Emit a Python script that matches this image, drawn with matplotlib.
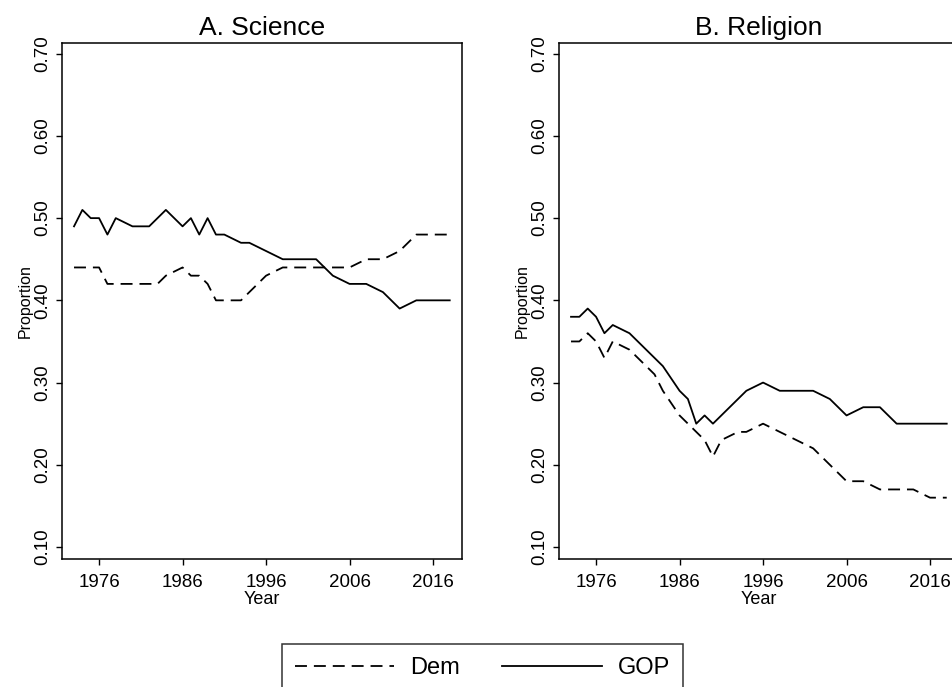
import matplotlib
matplotlib.use("Agg")
import matplotlib.pyplot as plt
from matplotlib.lines import Line2D

## DADOS ##
years = [1973, 1974, 1975, 1976, 1977, 1978, 1980, 1982, 1983, 1984,
         1986, 1987, 1988, 1989, 1990, 1991, 1993, 1994, 1996, 1998,
         2000, 2002, 2004, 2006, 2008, 2010, 2012, 2014, 2016, 2018]

science_dem = [0.44, 0.44, 0.44, 0.44, 0.42, 0.42, 0.42, 0.42, 0.42, 0.43,
               0.44, 0.43, 0.43, 0.42, 0.40, 0.40, 0.40, 0.41, 0.43, 0.44,
               0.44, 0.44, 0.44, 0.44, 0.45, 0.45, 0.46, 0.48, 0.48, 0.48]
science_gop = [0.49, 0.51, 0.50, 0.50, 0.48, 0.50, 0.49, 0.49, 0.50, 0.51,
               0.49, 0.50, 0.48, 0.50, 0.48, 0.48, 0.47, 0.47, 0.46, 0.45,
               0.45, 0.45, 0.43, 0.42, 0.42, 0.41, 0.39, 0.40, 0.40, 0.40]

religion_dem = [0.35, 0.35, 0.36, 0.35, 0.33, 0.35, 0.34, 0.32, 0.31, 0.29,
                0.26, 0.25, 0.24, 0.23, 0.21, 0.23, 0.24, 0.24, 0.25, 0.24,
                0.23, 0.22, 0.20, 0.18, 0.18, 0.17, 0.17, 0.17, 0.16, 0.16]
religion_gop = [0.38, 0.38, 0.39, 0.38, 0.36, 0.37, 0.36, 0.34, 0.33, 0.32,
                0.29, 0.28, 0.25, 0.26, 0.25, 0.26, 0.28, 0.29, 0.30, 0.29,
                0.29, 0.29, 0.28, 0.26, 0.27, 0.27, 0.25, 0.25, 0.25, 0.25]

x_ticks = [1976, 1986, 1996, 2006, 2016]
y_ticks = [0.10, 0.20, 0.30, 0.40, 0.50, 0.60, 0.70]
panel_titles = ["A. Science", "B. Religion"]
series_labels = ["Dem", "GOP"]

plt.rcParams['font.family'] = ['Liberation Sans', 'DejaVu Sans']
plt.rcParams['lines.scale_dashes'] = False

DASH = (8.6, 5.0)
LW = 1.3


def draw_panel(ax, title, dem, gop):
    ax.plot(years, dem, color='black', lw=LW, dashes=DASH)
    ax.plot(years, gop, color='black', lw=LW)

    ax.set_xlim(1971.56, 2019.47)
    ax.set_ylim(0.0854, 0.713)
    ax.set_xticks(x_ticks)
    ax.set_yticks(y_ticks)
    ax.set_yticklabels([f"{v:.2f}" for v in y_ticks], rotation=90, va='center')
    ax.tick_params(axis='both', direction='out', length=4.5, width=1.0,
                   labelsize=13.5, colors='black')
    ax.tick_params(axis='x', pad=6)
    ax.tick_params(axis='y', pad=3)
    for sp in ax.spines.values():
        sp.set_linewidth(1.1)
        sp.set_color('black')

    ax.set_title(title, fontsize=19, pad=6)
    ax.set_xlabel("Year", fontsize=13, labelpad=0)
    ax.set_ylabel("Proportion", fontsize=11.5, labelpad=1)


fig = plt.figure(figsize=(9.53, 6.87), dpi=100)
ax_left = fig.add_axes([62 / 953, 1 - 559 / 687, 400 / 953, 516 / 687])
ax_right = fig.add_axes([559 / 953, 1 - 559 / 687, 400 / 953, 516 / 687])

draw_panel(ax_left, panel_titles[0], science_dem, science_gop)
draw_panel(ax_right, panel_titles[1], religion_dem, religion_gop)

legend_handles = [
    Line2D([], [], color='black', lw=LW, dashes=DASH),
    Line2D([], [], color='black', lw=LW),
]
leg = fig.legend(legend_handles, series_labels, loc='upper center',
                 bbox_to_anchor=(482.5 / 953, 1 - 644 / 687), ncol=2,
                 frameon=True, fancybox=False, edgecolor='black',
                 fontsize=17, handlelength=4.2, handletextpad=0.7,
                 columnspacing=1.8, borderpad=0.55, borderaxespad=0)
leg.get_frame().set_linewidth(1.1)

fig.savefig("out.png", dpi=100)
plt.close(fig)
